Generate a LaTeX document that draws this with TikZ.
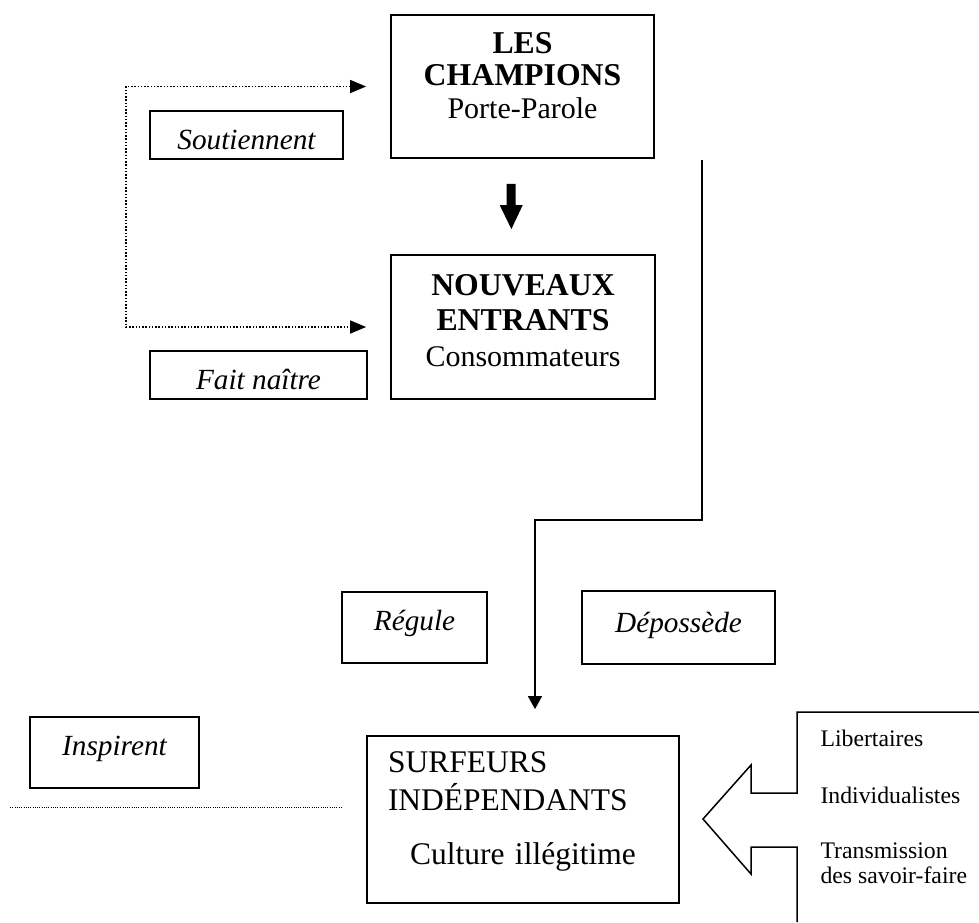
\documentclass[tikz,border=0pt]{standalone}
\usepackage{fontspec}
\setmainfont{Liberation Serif}
\usetikzlibrary{arrows.meta,positioning}
\newcommand\sink[1]{\rule[-#1]{0pt}{1pt}}
\newcommand\titre[1]{{\fontsize{12.7}{13}\selectfont\bfseries #1}}

\begin{document}
\begin{tikzpicture}[x=0.4pt,y=-0.4pt,
  mainbox/.style={draw,line width=0.7pt,inner sep=0pt,align=center},
  verb/.style={draw,line width=0.7pt,inner xsep=0pt,inner ysep=0pt,text height=15.2pt,
    font=\fontsize{11.7}{14}\selectfont\itshape},
  link/.style={line width=0.55pt,-{Triangle[length=5.2pt,width=5.6pt]}},
  dotlink/.style={line width=0.6pt,dash pattern=on 0.6pt off 0.7pt,
    {Triangle[length=6.4pt,width=5.2pt]}-{Triangle[length=6.4pt,width=5.2pt]},
    shorten <=9.6pt,shorten >=9.6pt}]

\useasboundingbox (0,0) rectangle (979,922);

% the three actors
\node[mainbox,minimum width=105.2pt,minimum height=57.2pt,font=\fontsize{12}{13}\selectfont]
  (champ) at (522.5,86.5) {\titre{LES}\\\titre{CHAMPIONS}\\Porte-Parole\sink{9.2pt}};
\node[mainbox,minimum width=105.6pt,minimum height=57.6pt,font=\fontsize{12}{14.2}\selectfont]
  (nouv) at (523,327) {\titre{NOUVEAUX}\\\titre{ENTRANTS}\\Consommateurs\sink{5.6pt}};
\node[draw,line width=0.7pt,minimum height=66.8pt,text width=108pt,inner xsep=8.4pt,inner ysep=0pt,
  align=left,font=\fontsize{12.6}{15.2}\selectfont]
  (surf) at (523,819.5) {SURFEURS\\INDÉPENDANTS\\[6.4pt]\hspace*{8.8pt}Culture illégitime\sink{8.8pt}};

% verbs
\node[verb,minimum width=77.2pt,text depth=4pt] (sout) at (246.5,135) {Soutiennent};
\node[verb,minimum width=86.8pt,text depth=4pt] (fait) at (258.5,375) {Fait naître};
\node[verb,minimum width=58pt,text depth=13.2pt] (reg) at (414.5,627.5) {Régule};
\node[verb,minimum width=77.2pt,text height=16.4pt,text depth=12.8pt] (depo) at (678.5,627.5) {Dépossède};
\node[verb,minimum width=67.6pt,text depth=13.2pt] (insp) at (114.5,752.5) {Inspirent};

% connectors
\draw[line width=3.6pt,-{Triangle[length=9.6pt,width=9.2pt,line width=0pt]},
  shorten <=10pt,shorten >=10pt] ([xshift=-4.6pt]champ.south) -- ([xshift=-4.6pt]nouv.north);

\coordinate (dep) at (702,160);
\coordinate (coude) at (535,520);
\draw[link,shorten >=10.4pt] (dep) |- (coude) -- (coude |- surf.north);

\coordinate (bord) at (126,200);
\draw[dotlink] (champ.west) -| (bord) |- (nouv.west);

\coordinate (fil-a) at (10,807);
\coordinate (fil-b) at (343,807);
\draw[line width=0.4pt,dash pattern=on 0.4pt off 0.5pt] (fil-a) -- (fil-b);

% callout arrow
\draw[line width=0.6pt,line join=miter] (979,712) -- (797,712) -- (797,793) -- (751,793)
  -- (751,765) -- (703,819) -- (751,874) -- (751,847) -- (797,847) -- (797,922);
\node[anchor=north west,inner sep=0pt,align=left,font=\fontsize{9.5}{10}\selectfont]
  (traits) at (820,729) {Libertaires\\[12.8pt]Individualistes\\[12pt]Transmission\\des savoir-faire};

\end{tikzpicture}
\end{document}
